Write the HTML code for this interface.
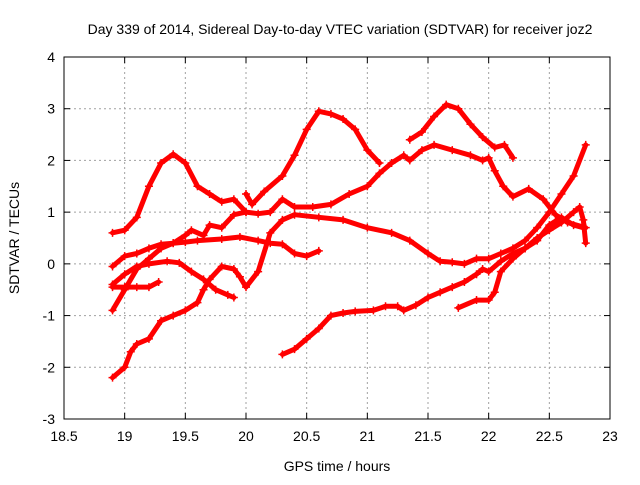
<!DOCTYPE html>
<html><head><meta charset="utf-8"><style>
body{margin:0;background:#fff;}
svg text{font-family:"Liberation Sans",sans-serif;font-size:14px;fill:#000;}
</style></head><body>
<svg id="chart" width="640" height="480" viewBox="0 0 640 480" xmlns="http://www.w3.org/2000/svg">
<g id="grid"></g>
<g id="series"></g>
<rect x="64" y="57" width="546" height="362" fill="none" stroke="#000" stroke-width="1"/>
<g id="ticks"></g>
<text x="340" y="34" text-anchor="middle">Day 339 of 2014, Sidereal Day-to-day VTEC variation (SDTVAR) for receiver joz2</text>
<text x="337" y="471" text-anchor="middle">GPS time / hours</text>
<text transform="translate(19,238) rotate(-90)" text-anchor="middle">SDTVAR / TECUs</text>
</svg>
<script>
const xTicks=[18.5,19,19.5,20,20.5,21,21.5,22,22.5,23];
const yTicks=[-3,-2,-1,0,1,2,3,4];
const s1=[[18.9,0.6],[19.0,0.65],[19.1,0.9],[19.2,1.5],[19.3,1.95],[19.4,2.12],[19.5,1.95],[19.6,1.5],[19.7,1.35],[19.8,1.2],[19.9,1.25],[20.0,1.0],[20.1,0.97],[20.2,1.0],[20.3,1.25],[20.4,1.1],[20.55,1.1],[20.7,1.15],[20.85,1.35],[21.0,1.5],[21.1,1.75],[21.2,1.95],[21.3,2.1],[21.35,2.0],[21.45,2.2],[21.55,2.3],[21.7,2.2],[21.85,2.1],[21.95,2.0],[22.0,2.05],[22.05,1.8],[22.12,1.5],[22.2,1.3],[22.33,1.45],[22.45,1.25],[22.55,0.95],[22.65,0.8],[22.8,0.7]];
const s2=[[20.0,1.35],[20.05,1.15],[20.15,1.4],[20.3,1.7],[20.4,2.1],[20.5,2.6],[20.6,2.95],[20.7,2.9],[20.8,2.8],[20.9,2.6],[21.0,2.2],[21.1,1.95]];
const s3=[[21.35,2.4],[21.45,2.55],[21.55,2.85],[21.65,3.08],[21.75,3.0],[21.85,2.7],[21.95,2.45],[22.05,2.25],[22.13,2.3],[22.2,2.05]];
const s4=[[18.9,-0.05],[19.0,0.15],[19.1,0.2],[19.2,0.3],[19.3,0.38],[19.4,0.4],[19.5,0.42],[19.6,0.45],[19.8,0.48],[19.95,0.52],[20.1,0.45],[20.2,0.4],[20.3,0.38],[20.4,0.2],[20.5,0.15],[20.6,0.25]];
const s5=[[18.9,-0.9],[19.0,-0.5],[19.1,-0.1],[19.2,0.1],[19.3,0.3],[19.4,0.4],[19.5,0.55],[19.55,0.65],[19.65,0.55],[19.7,0.75],[19.8,0.7],[19.9,0.95],[20.0,1.0]];
const s6=[[18.9,-0.45],[19.0,-0.45],[19.1,-0.45],[19.2,-0.45],[19.28,-0.35]];
const s7=[[18.9,-0.4],[19.0,-0.2],[19.1,-0.05],[19.2,0.0],[19.35,0.05],[19.45,0.02],[19.55,-0.15],[19.65,-0.3],[19.75,-0.5],[19.85,-0.6],[19.9,-0.65]];
const s8=[[18.9,-2.2],[19.0,-2.0],[19.05,-1.7],[19.1,-1.55],[19.2,-1.45],[19.3,-1.1],[19.4,-1.0],[19.5,-0.9],[19.6,-0.75],[19.65,-0.5],[19.7,-0.3],[19.8,-0.05],[19.9,-0.1],[19.95,-0.25],[20.0,-0.45],[20.1,-0.15],[20.2,0.6],[20.3,0.85],[20.4,0.95],[20.6,0.9],[20.8,0.85],[21.0,0.7],[21.2,0.6],[21.35,0.45],[21.5,0.2],[21.6,0.05],[21.7,0.03],[21.8,0.0],[21.9,0.1],[22.0,0.1],[22.1,0.2],[22.2,0.3],[22.3,0.45],[22.4,0.7],[22.5,1.0],[22.6,1.35],[22.7,1.7],[22.8,2.3]];
const s9=[[20.3,-1.75],[20.4,-1.65],[20.5,-1.45],[20.6,-1.25],[20.7,-1.0],[20.8,-0.95],[20.9,-0.92],[21.05,-0.9],[21.15,-0.82],[21.25,-0.82],[21.3,-0.9],[21.4,-0.8],[21.5,-0.65],[21.6,-0.55],[21.7,-0.45],[21.8,-0.35],[21.9,-0.2],[21.95,-0.1],[22.0,-0.15],[22.1,0.05],[22.2,0.2],[22.3,0.3],[22.4,0.45],[22.5,0.75],[22.6,0.9],[22.7,0.75],[22.78,0.7]];
const s10=[[21.75,-0.85],[21.9,-0.7],[22.0,-0.7],[22.05,-0.55],[22.1,-0.15],[22.2,0.1],[22.3,0.3],[22.4,0.5],[22.5,0.65],[22.6,0.8],[22.7,1.0],[22.75,1.1],[22.78,0.85],[22.8,0.4]];
const allSeries=[s1,s2,s3,s4,s5,s6,s7,s8,s9,s10];
const L=64,R=610,T=57,B=419,X0=18.5,X1=23,Y0=-3,Y1=4;
const sx=v=>L+(v-X0)/(X1-X0)*(R-L);
const sy=v=>B-(v-Y0)/(Y1-Y0)*(B-T);
const NS='http://www.w3.org/2000/svg';
const grid=document.getElementById('grid'),ticks=document.getElementById('ticks'),ser=document.getElementById('series');
function mk(tag,attrs,parent){const e=document.createElementNS(NS,tag);for(const k in attrs)e.setAttribute(k,attrs[k]);parent.appendChild(e);return e;}
xTicks.forEach(t=>{const x=sx(t);
 if(t>X0&&t<X1){const g=mk('line',{x1:x,x2:x,y1:T,y2:B,stroke:'#a0a0a0','stroke-dasharray':'2,3'},grid);
 
 }
 const a=mk('line',{x1:x,x2:x,y1:B,y2:B-6,stroke:'#000'},ticks);
 
 
 const b=mk('line',{x1:x,x2:x,y1:T,y2:T+6,stroke:'#000'},ticks);
 
 
 const tx=mk('text',{x:x,y:B+22,'text-anchor':'middle'},ticks);tx.textContent=String(t);
 
 
});
yTicks.forEach(t=>{const y=sy(t);
 if(t>Y0&&t<Y1){const g=mk('line',{x1:L,x2:R,y1:y,y2:y,stroke:'#a0a0a0','stroke-dasharray':'2,3'},grid);
 
 }
 const a=mk('line',{x1:L,x2:L+6,y1:y,y2:y,stroke:'#000'},ticks);
 
 
 const b=mk('line',{x1:R,x2:R-6,y1:y,y2:y,stroke:'#000'},ticks);
 
 
 const tx=mk('text',{x:L-9,y:y+5,'text-anchor':'end'},ticks);tx.textContent=String(t);
 
 
});
allSeries.forEach((s,i)=>{
 const pts=s.map(p=>sx(p[0]).toFixed(1)+','+sy(p[1]).toFixed(1)).join(' ');
 const pl=mk('polyline',{points:pts,fill:'none',stroke:'#f00','stroke-width':5,'stroke-linejoin':'round','stroke-linecap':'round'},ser);
 
 
 s.forEach(p=>{const x=sx(p[0]),y=sy(p[1]);
  const m=mk('path',{d:`M${x-4},${y}H${x+4}M${x},${y-4}V${y+4}`,stroke:'#f00','stroke-width':1.5},ser);
  
  
 });
});
</script>
</body></html>
